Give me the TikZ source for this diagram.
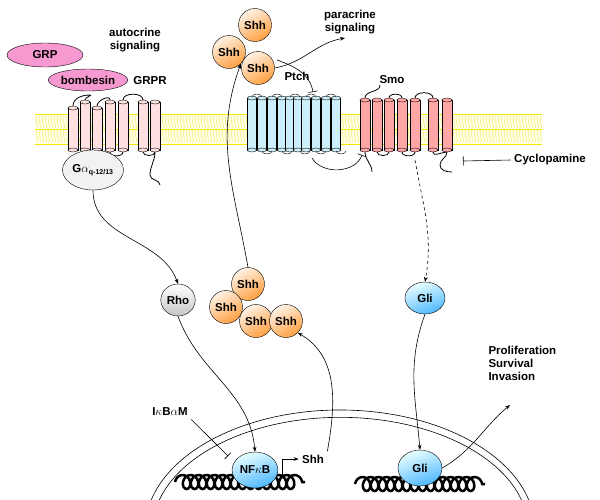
\documentclass[tikz,border=0pt]{standalone}
\usepackage{fontspec}
\setmainfont{Liberation Sans}
\usetikzlibrary{decorations.pathmorphing,arrows.meta,shapes.geometric}
\begin{document}
\begin{tikzpicture}[x=1pt,y=-1pt,font=\bfseries\fontsize{11.5}{13}\selectfont]
    \tikzstyle{shh}=[circle,draw,thin,inner sep=0pt,minimum size=33pt,top color=orange!10,bottom color=orange!75,shading angle=30]
    \tikzstyle{blob}=[ellipse,draw,thin,inner sep=1pt]
    \tikzstyle{blue blob}=[blob,top color=cyan!8,bottom color=cyan!60!blue!70,shading angle=20]
    \tikzstyle{arr}=[-{Stealth[length=5pt]},semithick]
    \tikzstyle{inh}=[-{Bar[width=9pt]},semithick]
    \tikzstyle{tm}=[draw,thin]
    \tikzstyle{dna}=[line width=2.5pt,decorate,decoration={coil,aspect=0.8,segment length=8pt,amplitude=7pt}]
    \useasboundingbox (0,0) rectangle (600,499);
    % membrane
    \fill[yellow!10] (35,114) rectangle (542,144);
    \foreach \x in {36,39,...,540} {
        \draw[yellow!80!olive,very thin] (\x,116) -- (\x+1.5,128) (\x,130) -- (\x+1.5,142);
    }
    \draw[yellow!90!olive,thick] (35,114) -- (542,114) (35,129) -- (542,129) (35,144) -- (542,144);
    % GRPR
    \foreach \x/\t in {73/108,85/102,97/108,110/102,123/102,143/102,155/102} {
        \draw[tm,fill=red!12] (\x-5,\t) rectangle (\x+5,150);
        \draw[tm,fill=red!12] (\x,\t) ellipse (5pt and 2pt) (\x,150) ellipse (5pt and 2pt);
    }
    \draw[thick] (73,106) to[out=90,in=180] (90,95) to[out=0,in=90] (85,100)
                 (85,152) to[out=-90,in=-90] (97,152)
                 (97,106) to[out=90,in=90] (110,100)
                 (110,152) to[out=-90,in=-90] (123,152)
                 (123,100) to[out=90,in=90] (143,100)
                 (143,152) to[out=-90,in=-90] (155,152)
                 (155,152) to[out=-90,in=90] (150,175) to[out=-90,in=90] (160,185);
    \node[blob,fill=gray!10,minimum width=60pt,minimum height=40pt] (galpha) at (93,170) {G$\alpha$\textsubscript{\scriptsize q-12/13}};
    \node[blob,fill=magenta!40,minimum width=76pt,minimum height=24pt] (grp) at (45,55) {GRP};
    \node[blob,fill=magenta!40,minimum width=72pt,minimum height=22pt] (bombesin) at (88,80) {bombesin};
    \node (grpr) at (150,81) {GRPR};
    \node[align=center] (autocrine) at (135,40) {autocrine\\signaling};
    % Ptch
    \foreach \x in {252,262,272,282,290,298,306,316,326,336} {
        \draw[tm,fill=cyan!20] (\x-4.5,98) rectangle (\x+4.5,150);
        \draw[tm,fill=cyan!20] (\x,98) ellipse (4.5pt and 2pt) (\x,150) ellipse (4.5pt and 2pt);
    }
    \foreach \x in {252,272,290,306,326} {
        \draw (\x,97) to[out=90,in=90] (\x+10,97) (\x+10,151) to[out=-90,in=-90] (\x+20,151);
    }
    \node (ptch) at (297,76) {Ptch};
    % Smo
    \foreach \x in {365,377,389,402,415,433,447} {
        \draw[tm,fill=red!35] (\x-5,100) rectangle (\x+5,150);
        \draw[tm,fill=red!35] (\x,100) ellipse (5pt and 2pt) (\x,150) ellipse (5pt and 2pt);
    }
    \draw[thick] (365,98) to[out=90,in=-90] (380,85)
                 (377,152) to[out=-90,in=-90] (389,152)
                 (389,98) to[out=90,in=90] (402,98)
                 (402,152) to[out=-90,in=-90] (415,152)
                 (415,98) to[out=90,in=90] (433,98)
                 (433,152) to[out=-90,in=180] (447,152)
                 (447,152) to[out=-90,in=90] (440,165) to[out=-90,in=180] (452,172)
                 (365,152) to[out=-90,in=90] (372,172);
    \node (smo) at (392,80) {Smo};
    \node (cyclopamine) at (550,160) {Cyclopamine};
    % Shh
    \node[shh] (shhA) at (255,25) {Shh};
    \node[shh] (shhB) at (229,52) {Shh};
    \node[shh] (shhC) at (258,68) {Shh};
    \node[shh] (shhD) at (248,284) {Shh};
    \node[shh] (shhE) at (226,307) {Shh};
    \node[shh] (shhF) at (256,321) {Shh};
    \node[shh] (shhG) at (286,321) {Shh};
    \node[align=center] (paracrine) at (350,22) {paracrine\\signaling};
    \coordinate (paraEnd) at (345,38);
    \draw[arr] (shhC.east) to[out=10,in=190] (paraEnd);
    \coordinate (ptchBar) at (313,92);
    \draw[inh] (277,60) to[out=-20,in=100] (ptchBar);
    \coordinate (smoBar) at (362,155);
    \draw[inh] (312,158) to[out=-60,in=-110] (smoBar);
    \coordinate (cycBar) at (463,161);
    \draw[inh] (cyclopamine.west) -- (cycBar);
    % cytoplasm
    \node[blob,top color=white,bottom color=gray!45,minimum size=32pt] (rho) at (178,300) {Rho};
    \node[blue blob,minimum width=40pt,minimum height=32pt] (gliC) at (425,298) {Gli};
    \coordinate (smoEnd) at (415,160);
    \draw[arr,dashed] (smoEnd) to[out=-80,in=80] (gliC.north);
    \draw[arr] (galpha.south) to[out=-90,in=110] (rho.north);
    \draw[arr] (shhD.north) to[out=100,in=-110] (shhB.south east);
    % nucleus
    \draw[semithick] (150,503) arc[start angle=193,end angle=347,x radius=195,y radius=120];
    \draw[semithick] (158,503) arc[start angle=194,end angle=346,x radius=188,y radius=113];
    \draw[dna] (175,482) -- (305,482);
    \draw[dna] (355,484) -- (485,484);
    \node[blue blob,minimum width=44pt,minimum height=36pt] (nfkb) at (255,470) {NF$\kappa$B};
    \node[blue blob,minimum width=44pt,minimum height=36pt] (gliN) at (420,468) {Gli};
    \node (ikb) at (170,412) {I$\kappa$B$\alpha$M};
    \node (shhT) at (313,459) {Shh};
    \node[align=left,anchor=north west] (prolif) at (485,343) {Proliferation\\Survival\\Invasion};
    \coordinate (ikbBar) at (228,456);
    \draw[inh,semithick] (ikb.south east) -- (ikbBar);
    \draw[arr] (rho.south) to[out=-70,in=95] (nfkb.north);
    \coordinate (tss) at (282,476);
    \draw[arr] (tss) |- (shhT.west);
    \draw[arr] (shhT.north east) to[out=80,in=-30] (shhG.south east);
    \draw[arr] (gliC.south) to[out=-110,in=95] (gliN.north);
    \coordinate (prolifEnd) at (510,405);
    \draw[arr] (gliN.east) to[out=30,in=-140] (prolifEnd);
\end{tikzpicture}
\end{document}
